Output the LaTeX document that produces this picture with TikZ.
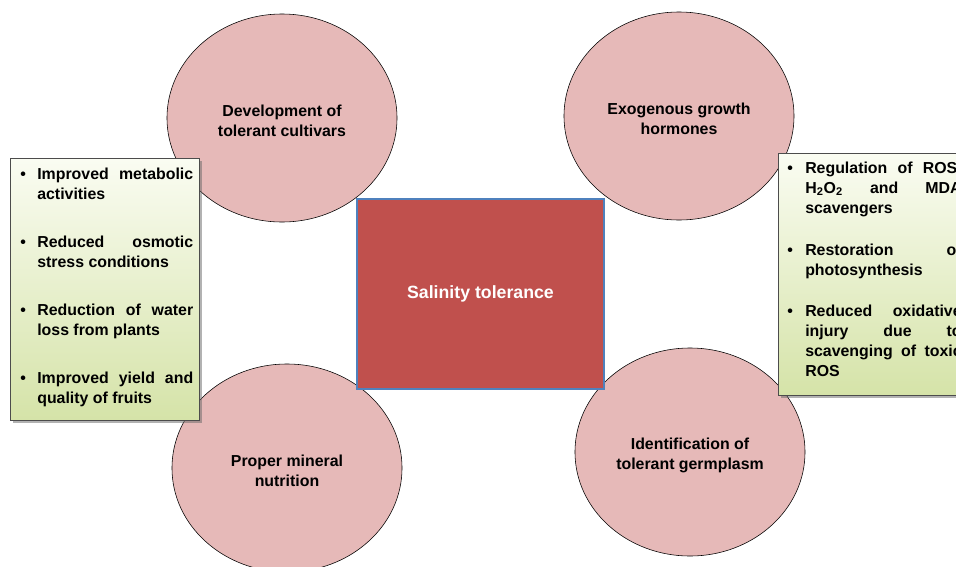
\documentclass[tikz,border=0pt]{standalone}
\usepackage{fontspec}
\setmainfont{Liberation Sans}
\usetikzlibrary{shapes.geometric,shadows}

\definecolor{petal}{HTML}{E6B9B8}
\definecolor{core}{HTML}{C0504D}
\definecolor{coreline}{HTML}{4F81BD}
\definecolor{notetop}{HTML}{FAFCF2}
\definecolor{notebot}{HTML}{D5E3A8}

\tikzstyle{petal} = [ellipse, draw=black, fill=petal, minimum width=5.75cm, minimum height=5.2cm, align=center, font=\fontsize{11.3}{14.2}\selectfont\bfseries]
\tikzstyle{core} = [rectangle, draw=coreline, line width=0.9pt, fill=core, minimum width=6.175cm, minimum height=4.75cm, text=white, font=\fontsize{12.6}{15}\selectfont\bfseries]
\tikzstyle{notebox} = [rectangle, draw=black!70, top color=notetop, bottom color=notebot, anchor=north west, minimum width=4.725cm, drop shadow={shadow xshift=0.07cm, shadow yshift=-0.07cm, fill=black!60}]
\tikzstyle{notetext} = [anchor=north west, inner sep=0pt, text width=123pt, align=justify, font=\fontsize{11.3}{14.2}\selectfont\bfseries]

% bullet with hanging indent
\newcommand{\bitem}[2][12.1pt]{\par\noindent\hangindent=#1\hangafter=1\makebox[#1][l]{\textbullet}#2\par}
% taller first line, sets the two lines a bit low in the ellipse
\newcommand{\lowstrut}{\rule{0pt}{12.5pt}}

\begin{document}
\begin{tikzpicture}[x=0.025cm,y=-0.025cm]

\useasboundingbox (0,0) rectangle (956,567);

\node[petal](cultivars) at (282,118){\lowstrut Development of\\tolerant cultivars};
\node[petal](hormones) at (679,116){\lowstrut Exogenous growth\\hormones};
\node[petal](mineral) at (287,468){\lowstrut Proper mineral\\nutrition};
\node[petal](germplasm) at (690,452){\lowstrut Identification of\\tolerant germplasm};

\node[core](salinity) at (480.5,294){Salinity tolerance};

\node[notebox,minimum height=6.55cm](leftbox) at (10,158){};
\node[notetext](lefttext) at (20,159){%
\hyphenpenalty=10000\tolerance=10000
\bitem{Improved metabolic activities}\vspace{20pt}
\bitem{Reduced osmotic stress conditions}\vspace{20pt}
\bitem{Reduction of water loss from plants}\vspace{20pt}
\bitem{Improved yield and quality of fruits}};

\node[notebox,minimum height=6.05cm](rightbox) at (778,153){};
\node[notetext,text width=124pt](righttext) at (787,153){%
\hyphenpenalty=10000\tolerance=10000
\bitem[12.8pt]{Regulation of ROS,\linebreak H\textsubscript{2}O\textsubscript{2} and MDA\linebreak scavengers}\vspace{15.6pt}
\bitem[12.8pt]{Restoration of\linebreak photosynthesis}\vspace{15.6pt}
\bitem[12.8pt]{Reduced oxidative\linebreak injury due to\linebreak scavenging of toxic\linebreak ROS}};

\end{tikzpicture}
\end{document}
